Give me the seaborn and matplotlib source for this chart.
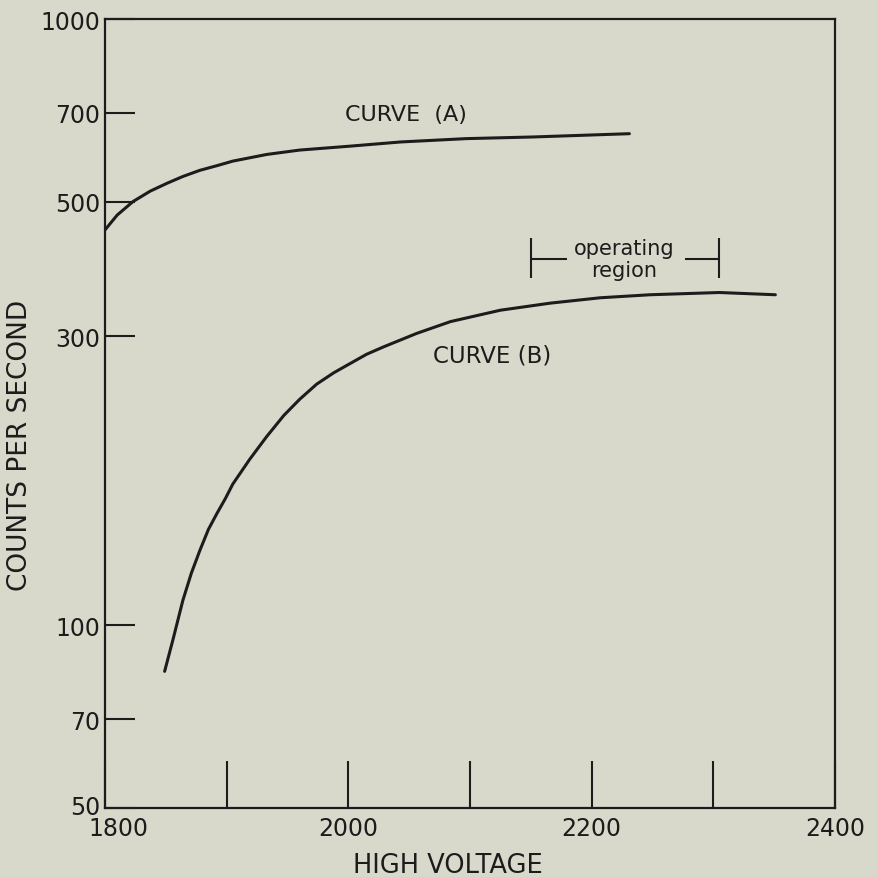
import numpy as np
import pandas as pd
import seaborn as sns
import matplotlib.pyplot as plt
from matplotlib.transforms import ScaledTranslation

#values
volt_a = [1800, 1810, 1823, 1837, 1851, 1864, 1878, 1892, 1905, 1933, 1960,
          2001, 2043, 2097, 2152, 2231]
counts_a = [449, 475, 500, 520, 536, 550, 563, 573, 583, 598, 608,
            617, 627, 635, 639, 647]

volt_b = [1849, 1856, 1864, 1871, 1878, 1885, 1892, 1899, 1905, 1919, 1933,
          1947, 1960, 1974, 1988, 2001, 2015, 2029, 2056, 2084, 2125, 2166,
          2207, 2248, 2305, 2351]
counts_b = [84, 95, 110, 122, 133, 144, 153, 162, 171, 188, 205,
            222, 236, 250, 261, 270, 280, 288, 303, 317, 331, 340,
            347, 351, 354, 351]

y_ticks = [50, 70, 100, 300, 500, 700, 1000]
x_ticks = [1800, 1900, 2000, 2100, 2200, 2300, 2400]
x_labels = ['1800', '', '2000', '', '2200', '', '2400']
op_region = [2150, 2305]

ink = '#1c1c1c'
paper = '#d9d9cb'

sns.set_theme(style='white')
plt.rcParams['font.family'] = ['DejaVu Sans']
plt.rcParams['text.color'] = ink
plt.rcParams['axes.labelcolor'] = ink
plt.rcParams['xtick.color'] = ink
plt.rcParams['ytick.color'] = ink

fig = plt.figure(figsize=(8.78, 8.78), dpi=100, facecolor=paper)
ax = fig.add_axes([0.1196, 0.0786, 0.8314, 0.8986])
ax.set_facecolor(paper)

df_a = pd.DataFrame({'voltage': volt_a, 'counts': counts_a})
df_b = pd.DataFrame({'voltage': volt_b, 'counts': counts_b})
sns.lineplot(data=df_a, x='voltage', y='counts', ax=ax, color=ink, lw=2.2)
sns.lineplot(data=df_b, x='voltage', y='counts', ax=ax, color=ink, lw=2.2)

ax.set_yscale('log')
ax.set_xlim(1800, 2400)
ax.set_ylim(50, 1000)
ax.set_yticks(y_ticks, [str(v) for v in y_ticks])
ax.yaxis.set_minor_locator(plt.NullLocator())
ax.set_xticks(x_ticks, x_labels)

for sp in ax.spines.values():
    sp.set_color(ink)
    sp.set_linewidth(1.6)

ax.tick_params(axis='x', bottom=True, direction='in', length=34, width=1.5,
               pad=6, labelsize=17)
ax.tick_params(axis='y', left=True, direction='in', length=21.5, width=1.5,
               pad=3.5, labelsize=17)

#nudge the 1800 label off the 50 label, like the original
lab = ax.get_xticklabels()[0]
lab.set_transform(lab.get_transform() + ScaledTranslation(0.13, 0, fig.dpi_scale_trans))
lab = ax.get_yticklabels()[0]
lab.set_transform(lab.get_transform() + ScaledTranslation(0, 0.03, fig.dpi_scale_trans))

ax.set_xlabel('HIGH VOLTAGE', fontsize=18.5)
ax.xaxis.set_label_coords(0.47, -0.056)
ax.set_ylabel('COUNTS PER SECOND', fontsize=19)
ax.yaxis.set_label_coords(-0.099, 0.461)

ax.text(2047, 697, 'CURVE  (A)', ha='center', va='center', fontsize=16)
ax.text(2118, 279, 'CURVE (B)', ha='center', va='center', fontsize=16.5)

#operating region bracket
ax.vlines(op_region, 374, 435, color=ink, lw=1.5)
ax.hlines(402, op_region[0], 2180, color=ink, lw=1.5)
ax.hlines(402, 2277, op_region[1], color=ink, lw=1.5)
ax.text(2227, 402, 'operating\nregion', ha='center', va='center', fontsize=15,
        linespacing=1.15)

fig.savefig('out.png', dpi=100, facecolor=paper)
